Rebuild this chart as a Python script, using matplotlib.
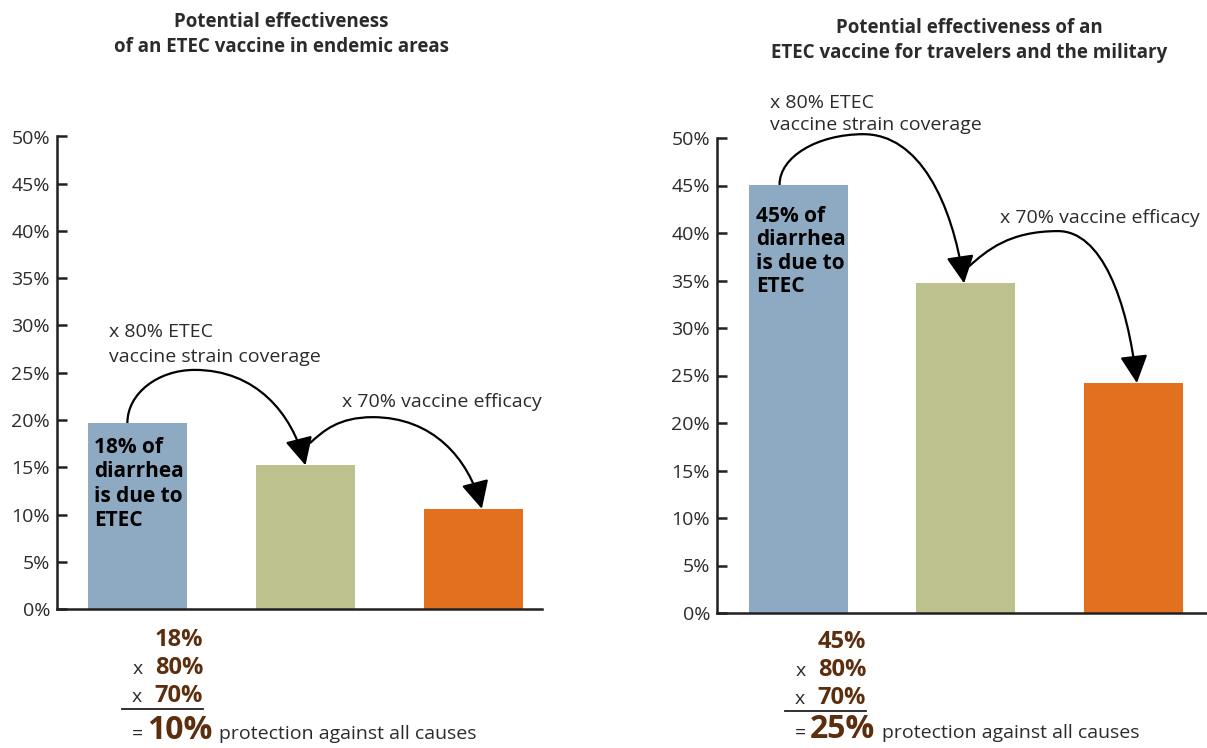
import matplotlib
matplotlib.use('Agg')
import matplotlib.pyplot as plt
from matplotlib.patches import FancyArrowPatch
from matplotlib.path import Path

W, H = 1207, 748

plt.rcParams['font.family'] = ['Open Sans', 'DejaVu Sans']

# data
bar_colors = ['#8eaac2', '#bdc18e', '#e3701f']
endemic_values = [19.7, 15.2, 10.6]
travel_values = [45.1, 34.7, 24.2]
y_ticks = [0, 5, 10, 15, 20, 25, 30, 35, 40, 45, 50]
y_tick_labels = ['%d%%' % t for t in y_ticks]
endemic_calc = ['18%', '80%', '70%', '10%']
travel_calc = ['45%', '80%', '70%', '25%']
endemic_title = 'Potential effectiveness\nof an ETEC vaccine in endemic areas'
travel_title = 'Potential effectiveness of an\nETEC vaccine for travelers and the military'
endemic_bar_note = ['18% of', 'diarrhea', 'is due to', 'ETEC']
travel_bar_note = ['45% of', 'diarrhea', 'is due to', 'ETEC']

TEXT = '#2b2b2b'
BROWN = '#5c2e0e'
AXIS = '#231f20'


def fx(px):
    return px / W


def fy(py):
    return 1 - py / H


def curved_arrow(ax, start, peak, end, diagonal=False):
    x0, y0 = start
    xp, yp = peak
    x1, y1 = end
    if diagonal:
        c1 = (x0 + 0.2 * (xp - x0), y0 + 0.45 * (yp - y0))
    else:
        c1 = (x0, y0 + 0.55 * (yp - y0))
    verts = [(x0, y0), c1, (xp - 0.55 * (xp - x0), yp), (xp, yp),
             (xp + 0.55 * (x1 - xp), yp), (x1 - 0.12 * (x1 - xp), y1 + 0.55 * (yp - y1)),
             (x1, y1)]
    codes = [Path.MOVETO] + [Path.CURVE4] * 6
    arrow = FancyArrowPatch(path=Path(verts, codes),
                            arrowstyle='-|>,head_length=1.7,head_width=0.85',
                            mutation_scale=10, lw=1.6, color='black',
                            shrinkA=0, shrinkB=0, clip_on=False)
    ax.add_patch(arrow)


def draw_panel(ax, values, xlim, arrows):
    ax.bar(range(len(values)), values, width=0.59, color=bar_colors, zorder=2)
    ax.set_xlim(xlim)
    ax.set_ylim(0, 50)
    ax.set_yticks(y_ticks)
    ax.set_yticklabels(y_tick_labels)
    ax.set_xticks([])
    for s in ['top', 'right']:
        ax.spines[s].set_visible(False)
    for s in ['left', 'bottom']:
        ax.spines[s].set_linewidth(1.8)
        ax.spines[s].set_color(AXIS)
        ax.spines[s].set_zorder(3)
    ax.tick_params(axis='y', direction='in', length=7.5, width=1.8, color=AXIS,
                   labelsize=14, labelcolor=TEXT, pad=5)
    ax.patch.set_visible(False)

    v0, v1, v2 = values
    (a1x, a1p, a1e), (a2x, a2p, a2e) = arrows
    curved_arrow(ax, (a1x, v0), (a1p[0], v0 + a1p[1]), (a1e, v1))
    curved_arrow(ax, (a2x[0], v1 + a2x[1]), (a2p[0], v1 + a2p[1]), (a2e, v2), diagonal=True)


fig = plt.figure(figsize=(W / 100, H / 100), dpi=100)

ax1 = fig.add_axes([fx(57), fy(609), fx(542 - 57), (609 - 136.5) / H])
draw_panel(ax1, endemic_values, (-0.479, 2.408),
           [(-0.06, (0.34, 5.6), 1.0), ((1.03, 2.4), (1.40, 5.1), 2.05)])

ax2 = fig.add_axes([fx(717), fy(613), fx(1207 - 717), (613 - 138) / H])
draw_panel(ax2, travel_values, (-0.483, 2.438),
           [(-0.11, (0.39, 5.3), 0.99), ((1.02, 1.8), (1.55, 5.5), 2.02)])

# titles
for (cx, y0), title in [((281, 27), endemic_title), ((969, 33), travel_title)]:
    for i, line in enumerate(title.split('\n')):
        fig.text(fx(cx), fy(y0 + 25 * i), line, ha='center', va='baseline',
                 weight='bold', size=13.5, color=TEXT)

# step annotations
fig.text(fx(109), fy(337), 'x 80% ETEC', size=14, color=TEXT, va='baseline')
fig.text(fx(109), fy(362), 'vaccine strain coverage', size=14, color=TEXT, va='baseline')
fig.text(fx(342), fy(407), 'x 70% vaccine efficacy', size=14, color=TEXT, va='baseline')
fig.text(fx(770), fy(108), 'x 80% ETEC', size=14, color=TEXT, va='baseline')
fig.text(fx(770), fy(130), 'vaccine strain coverage', size=14, color=TEXT, va='baseline')
fig.text(fx(1000), fy(223), 'x 70% vaccine efficacy', size=14, color=TEXT, va='baseline')

# notes inside the first bar
for (x0, y0, step), note in [((94, 453, 24.3), endemic_bar_note), ((756, 222, 23.4), travel_bar_note)]:
    for i, line in enumerate(note):
        fig.text(fx(x0), fy(y0 + step * i), line, ha='left', va='baseline',
                 weight='bold', size=15, color='black')

# calculation under each chart
for (xr, yb, last), calc in [((203, 646, 93), endemic_calc), ((866, 648, 90), travel_calc)]:
    fig.text(fx(xr), fy(yb), calc[0], ha='right', va='baseline', weight='bold',
             size=17, color=BROWN)
    fig.text(fx(xr), fy(yb + 28), calc[1], ha='right', va='baseline', weight='bold',
             size=17, color=BROWN)
    fig.text(fx(xr - 70), fy(yb + 28), 'x', ha='left', va='baseline', size=14, color=TEXT)
    fig.text(fx(xr), fy(yb + 56), calc[2], ha='right', va='baseline', weight='bold',
             size=17, color=BROWN)
    fig.text(fx(xr - 71), fy(yb + 56), 'x', ha='left', va='baseline', size=14, color=TEXT)
    fig.add_artist(plt.Line2D([fx(xr - 81), fx(xr)], [fy(yb + 63), fy(yb + 63)],
                              color=AXIS, lw=1.3))
    fig.text(fx(xr - 71), fy(yb + last), '=', ha='left', va='baseline', size=14, color=TEXT)
    fig.text(fx(xr - 56), fy(yb + last), calc[3], ha='left', va='baseline', weight='bold',
             size=23, color=BROWN)
    fig.text(fx(xr + 16), fy(yb + last), 'protection against all causes', ha='left',
             va='baseline', size=14, color=TEXT)

fig.savefig('out.png', dpi=100)
